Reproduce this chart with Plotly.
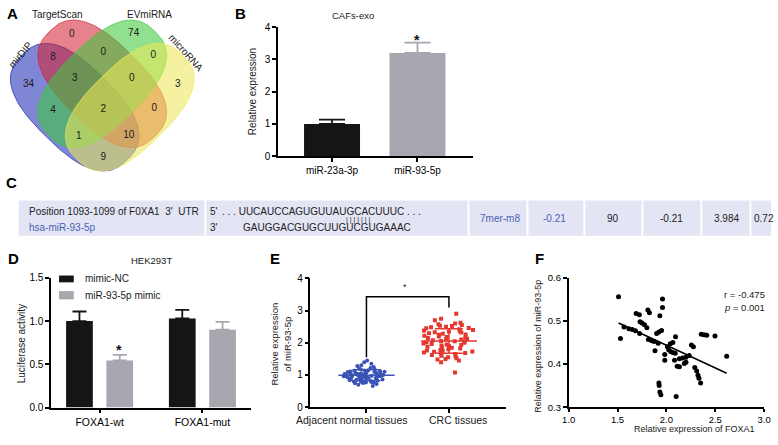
import numpy as np
import plotly.graph_objects as go

W, H = 778, 445
FONT = "Liberation Sans, Arial, sans-serif"

# ---------------- DATA ----------------
# A: Venn diagram
venn_sets = ["mirDIP", "TargetScan", "EVmiRNA", "microRNA"]
venn_regions = ["mirDIP", "TargetScan", "EVmiRNA", "microRNA",
                "mirDIP&TargetScan", "TargetScan&EVmiRNA", "EVmiRNA&microRNA",
                "mirDIP&TargetScan&EVmiRNA", "TargetScan&EVmiRNA&microRNA",
                "mirDIP&EVmiRNA", "all", "TargetScan&microRNA",
                "mirDIP&EVmiRNA&microRNA", "mirDIP&TargetScan&microRNA",
                "mirDIP&microRNA"]
venn_counts = [34, 0, 74, 3, 8, 0, 0, 3, 0, 4, 2, 0, 1, 10, 9]

# B: CAFs-exo bar chart
b_categories = ["miR-23a-3p", "miR-93-5p"]
b_values = [1.0, 3.2]
b_errors = [0.13, 0.32]

# C: target-site table
c_row_labels = ["Position 1093-1099 of F0XA1  3'  UTR", "hsa-miR-93-5p"]
c_utr_seq = "UUCAUCCAGUGUUAUGCACUUUC"
c_mir_seq = "GAUGGACGUGCUUGUCGUGAAAC"
c_cells = ["7mer-m8", "-0.21", "90", "-0.21", "3.984", "0.72"]

# D: luciferase assay
d_groups = ["FOXA1-wt", "FOXA1-mut"]
d_series = ["mimic-NC", "miR-93-5p mimic"]
d_nc = [1.0, 1.03]
d_nc_err = [0.11, 0.10]
d_mimic = [0.545, 0.90]
d_mimic_err = [0.065, 0.09]

# E: tissue expression
e_groups = ["Adjacent normal tissues", "CRC tissues"]
e_normal = [1.45, 1.40, 1.35, 1.30, 1.28, 1.25, 1.22, 1.20, 1.18, 1.17, 1.15, 1.14,
            1.13, 1.12, 1.11, 1.10, 1.10, 1.09, 1.08, 1.07, 1.06, 1.05, 1.05, 1.04,
            1.03, 1.02, 1.02, 1.01, 1.00, 1.00, 1.00, 0.99, 0.99, 0.98, 0.98, 0.97,
            0.97, 0.96, 0.95, 0.95, 0.94, 0.93, 0.93, 0.92, 0.91, 0.90, 0.90, 0.89,
            0.88, 0.87, 0.86, 0.85, 0.84, 0.83, 0.82, 0.81, 0.80, 0.79, 0.78, 0.77,
            0.76, 0.75, 0.74, 0.72, 0.70, 0.66, 1.03, 0.96, 1.08, 0.92]
e_crc = [2.90, 2.75, 2.70, 2.62, 2.60, 2.58, 2.55, 2.52, 2.50, 2.48, 2.46, 2.45,
         2.42, 2.40, 2.38, 2.36, 2.35, 2.32, 2.30, 2.28, 2.26, 2.25, 2.22, 2.20,
         2.18, 2.16, 2.15, 2.12, 2.10, 2.08, 2.06, 2.05, 2.03, 2.02, 2.00, 1.98,
         1.96, 1.95, 1.92, 1.90, 1.88, 1.86, 1.85, 1.82, 1.80, 1.78, 1.76, 1.75,
         1.72, 1.70, 1.68, 1.66, 1.65, 1.62, 1.60, 1.58, 1.55, 1.52, 1.50, 1.48,
         1.45, 1.40, 1.08, 2.13, 1.93, 2.33, 1.73, 2.53]

# F: correlation
f_foxa1 = [1.51, 1.96, 1.96, 1.933, 1.69, 1.723, 1.81, 1.826, 1.73, 1.75, 1.776, 1.80,
           1.566, 1.616, 1.65, 1.683, 1.726, 1.53, 1.90, 1.923, 1.95, 1.816, 1.85,
           1.876, 1.916, 2.093, 2.066, 2.04, 1.883, 2.01, 2.023, 2.043, 2.066, 2.09,
           1.983, 2.256, 2.276, 2.357, 2.385, 2.413, 2.497, 1.983, 2.083, 2.133, 2.166,
           2.20, 2.233, 2.11, 2.133, 2.183, 2.20, 2.29, 2.31, 2.323, 2.333, 2.35,
           1.923, 1.926, 1.933, 1.943, 2.10, 2.617]
f_mir = [0.556, 0.551, 0.531, 0.512, 0.517, 0.514, 0.525, 0.519, 0.498, 0.495, 0.491,
         0.484, 0.486, 0.482, 0.480, 0.477, 0.471, 0.459, 0.471, 0.474, 0.478, 0.457,
         0.454, 0.452, 0.448, 0.463, 0.450, 0.447, 0.431, 0.440, 0.433, 0.429, 0.427,
         0.425, 0.422, 0.444, 0.440, 0.469, 0.468, 0.467, 0.465, 0.409, 0.409, 0.412,
         0.414, 0.416, 0.420, 0.395, 0.394, 0.401, 0.404, 0.392, 0.384, 0.374, 0.367,
         0.356, 0.356, 0.350, 0.335, 0.329, 0.325, 0.418]
f_stats = ["r = -0.475", "<i>p</i> = 0.001"]

# ---------------- HELPERS ----------------
def dx(x0, x1):
    return [x0 / W, x1 / W]

def dy(y0, y1):
    return [1 - y1 / H, 1 - y0 / H]

def px(x):
    return x / W

def py(y):
    return 1 - y / H

BLACK = "#151515"
GRAY = "#a7a7af"

def axis_style(**kw):
    d = dict(showline=True, linecolor="black", linewidth=1.5, ticks="outside",
             ticklen=4, tickwidth=1.5, tickcolor="black", showgrid=False,
             zeroline=False, tickfont=dict(family=FONT, size=10, color="black"),
             fixedrange=True)
    d.update(kw)
    return d

fig = go.Figure()
annotations = []
shapes = []

def ann(text, x, y, size=10, color="#1a1a1a", angle=0, xanchor="center",
        yanchor="middle", bold=False):
    if bold:
        text = "<b>" + text + "</b>"
    annotations.append(dict(text=text, x=px(x), y=py(y), xref="paper", yref="paper",
                            showarrow=False, textangle=angle,
                            xanchor=xanchor, yanchor=yanchor,
                            font=dict(family=FONT, size=size, color=color)))

# ---------------- A: VENN ----------------
venn_geom = {  # centre (px), rotation (deg, screen)
    "mirDIP": ((69, 104), 45),
    "TargetScan": ((97, 80), 45),
    "EVmiRNA": ((97, 80), -45),
    "microRNA": ((125, 104), -45),
}
venn_colors = {
    "mirDIP": (30, 42, 178),
    "TargetScan": (210, 36, 52),
    "EVmiRNA": (60, 200, 60),
    "microRNA": (236, 232, 88),
}
ea, eb, en = 76, 42, 2.6
t = np.linspace(0, 2 * np.pi, 160)
cu = np.sign(np.cos(t)) * np.abs(np.cos(t)) ** (2 / en)
sv = np.sign(np.sin(t)) * np.abs(np.sin(t)) ** (2 / en)
for s in venn_sets:
    (cx, cy), ang = venn_geom[s]
    th = np.deg2rad(ang)
    u, v = ea * cu, eb * sv
    ex = cx + u * np.cos(th) - v * np.sin(th)
    ey = cy + u * np.sin(th) + v * np.cos(th)
    r, g, b = venn_colors[s]
    fig.add_trace(go.Scatter(x=ex, y=ey, mode="lines", fill="toself",
                             fillcolor=f"rgba({r},{g},{b},0.57)",
                             line=dict(color=f"rgba({r},{g},{b},0.7)", width=1),
                             xaxis="x5", yaxis="y5", hoverinfo="skip", showlegend=False))

venn_label_pos = [(22, 81), (66, 29), (129, 28), (174, 81), (47, 53), (98, 48),
                  (149, 51), (69, 74), (127, 75), (47, 107), (98, 106), (150, 105),
                  (73, 134), (124, 133), (98, 156)]
fig.add_trace(go.Scatter(x=[p[0] for p in venn_label_pos], y=[p[1] for p in venn_label_pos],
                         mode="text", text=[str(c) for c in venn_counts],
                         textfont=dict(family=FONT, size=10, color="#1a1a1a"),
                         xaxis="x5", yaxis="y5", hoverinfo="skip", showlegend=False))
set_label_pos = {"mirDIP": (14, 50, -50), "TargetScan": (51, 9, 0),
                 "EVmiRNA": (145, 9, 0), "microRNA": (182, 48, 48)}
for s in venn_sets:
    x, y, a = set_label_pos[s]
    ann(s, x, y, size=10, angle=a)

# ---------------- B ----------------
b_x = list(range(len(b_categories)))
for i, col in enumerate([BLACK, GRAY]):
    fig.add_trace(go.Bar(x=[b_x[i]], y=[b_values[i]], width=0.655,
                         marker=dict(color=col, line=dict(width=0)),
                         error_y=dict(type="data", array=[b_errors[i]], arrayminus=[0],
                                      symmetric=False, color=col, thickness=1.8, width=13),
                         xaxis="x", yaxis="y", showlegend=False, hoverinfo="skip"))
ann("*", 418, 35, size=14, bold=True, color="#111")
ann("CAFs-exo", 352, 10, size=9.5)
ann("Relative expression", 250, 88, size=10, angle=-90)

# ---------------- C: table ----------------
shapes.append(dict(type="rect", xref="paper", yref="paper", x0=px(12), x1=px(778),
                   y0=py(236), y1=py(200), fillcolor="#e3e5f5", line=dict(width=0), layer="below"))
for sx in [202, 470, 530, 588, 647, 707, 757]:
    shapes.append(dict(type="line", xref="paper", yref="paper", x0=px(sx), x1=px(sx),
                       y0=py(236), y1=py(200), line=dict(color="white", width=2)))
ann(c_row_labels[0], 20, 211.5, size=10, xanchor="left", color="#222")
ann(c_row_labels[1], 20, 227.5, size=10, xanchor="left", color="#4a5fb3")
ann("5'", 205, 211.5, size=10, xanchor="left", color="#222")
ann("3'", 205, 227.5, size=10, xanchor="left", color="#222")
ann(". . . " + c_utr_seq + " . . .", 217, 211.5, size=10, xanchor="left", color="#222")
ann(c_mir_seq, 238, 227.5, size=10, xanchor="left", color="#222")
ann("| | | | | | |", 358, 219.5, size=7, color="#222")
cell_cx = [502, 558, 617, 677, 733, 759]
cell_col = ["#4a5fb3", "#4a5fb3", "#222", "#222", "#222", "#222"]
for i, txt in enumerate(c_cells):
    if i == len(c_cells) - 1:
        ann(txt, cell_cx[i], 218, size=10, xanchor="left", color=cell_col[i])
    else:
        ann(txt, cell_cx[i], 218, size=10, color=cell_col[i])

# ---------------- D ----------------
d_x = list(range(len(d_groups)))
for vals, errs, col, off in [(d_nc, d_nc_err, BLACK, -0.326), (d_mimic, d_mimic_err, GRAY, 0.066)]:
    fig.add_trace(go.Bar(x=d_x, y=vals, width=0.26, offset=off,
                         marker=dict(color=col, line=dict(width=0)),
                         error_y=dict(type="data", array=errs, arrayminus=[0] * len(errs),
                                      symmetric=False, color=col, thickness=1.8, width=7),
                         xaxis="x2", yaxis="y2", showlegend=False, hoverinfo="skip"))
ann("*", 114, 354, size=14, bold=True, color="#111")
ann("HEK293T", 147, 262, size=9.5)
ann("Luciferase activity", 15, 347, size=10, angle=-90)
for col, (y0, y1), lab in [(BLACK, (277, 284), d_series[0]), (GRAY, (293, 301.5), d_series[1])]:
    shapes.append(dict(type="rect", xref="paper", yref="paper", x0=px(53), x1=px(68),
                       y0=py(y1), y1=py(y0), fillcolor=col, line=dict(width=0)))
    ann(lab, 77, (y0 + y1) / 2, size=10, xanchor="left")

# ---------------- E ----------------
e_cols = ["#3a52b6", "#e5372e"]
e_sym = ["circle", "square"]
for i, vals in enumerate([e_normal, e_crc]):
    fig.add_trace(go.Box(x=[i] * len(vals), y=vals, boxpoints="all", jitter=1.0,
                         pointpos=0, width=0.66, fillcolor="rgba(0,0,0,0)",
                         line=dict(width=0, color="rgba(0,0,0,0)"),
                         marker=dict(color=e_cols[i], size=4, symbol=e_sym[i]),
                         xaxis="x3", yaxis="y3", showlegend=False, hoverinfo="skip"))
    m = float(np.mean(vals))
    s = float(np.std(vals, ddof=1))
    fig.add_trace(go.Scatter(
        x=[i - 0.34, i + 0.34, None, i - 0.17, i + 0.17, None, i - 0.17, i + 0.17, None, i, i],
        y=[m, m, None, m + s, m + s, None, m - s, m - s, None, m - s, m + s],
        mode="lines", line=dict(color=e_cols[i], width=1.5),
        xaxis="x3", yaxis="y3", showlegend=False, hoverinfo="skip"))
bracket_y = [1.55, 3.43, 3.43, 3.1]
fig.add_trace(go.Scatter(x=[0, 0, 1, 1], y=bracket_y, mode="lines",
                         line=dict(color="black", width=1.5),
                         xaxis="x3", yaxis="y3", showlegend=False, hoverinfo="skip"))
ann("*", 405, 289, size=9, color="#111")
ann("Relative expression<br>of miR-93-5p", 279, 347, size=9.5, angle=-90)
ann(e_groups[0], 351, 425, size=10.5)
ann(e_groups[1], 459, 425, size=10.5)

# ---------------- F ----------------
fig.add_trace(go.Scatter(x=f_foxa1, y=f_mir, mode="markers",
                         marker=dict(color="black", size=5),
                         xaxis="x4", yaxis="y4", showlegend=False, hoverinfo="skip"))
k, c0 = np.polyfit(f_foxa1, f_mir, 1)
fx = np.array([min(f_foxa1), max(f_foxa1)])
fig.add_trace(go.Scatter(x=fx, y=k * fx + c0, mode="lines",
                         line=dict(color="black", width=1.5),
                         xaxis="x4", yaxis="y4", showlegend=False, hoverinfo="skip"))
ann(f_stats[0], 728, 296, size=9.5, xanchor="left")
ann(f_stats[1], 728, 310, size=9.5, xanchor="left")
ann("Relative expression of miR-93-5p", 540, 350, size=9, angle=-90)
ann("Relative expression of FOXA1", 700, 435, size=9)

# ---------------- panel letters ----------------
for L, x, y in [("A", 6, 8), ("B", 238, 8), ("C", 5, 181), ("D", 7, 260), ("E", 273, 259), ("F", 542, 260)]:
    ann(L, x, y, size=15, bold=True, color="black")

fig.update_layout(
    width=W, height=H, margin=dict(l=0, r=0, t=0, b=0),
    paper_bgcolor="white", plot_bgcolor="rgba(0,0,0,0)",
    barmode="overlay", boxmode="overlay",
    font=dict(family=FONT, color="black"),
    xaxis=axis_style(domain=dx(276, 475), range=[-0.632, 1.655], tickvals=b_x,
                     ticktext=b_categories, anchor="y"),
    yaxis=axis_style(domain=dy(21.7, 154.3), range=[0, 4], tickvals=[0, 1, 2, 3, 4], anchor="x"),
    xaxis2=axis_style(domain=dx(45, 248), range=[-0.471, 1.468], tickvals=d_x,
                      ticktext=d_groups, anchor="y2", tickfont=dict(family=FONT, size=10.5, color="black")),
    yaxis2=axis_style(domain=dy(279.3, 412.7), range=[0, 1.5], tickvals=[0, 0.5, 1.0, 1.5],
                      tickformat=".1f", anchor="x2"),
    xaxis3=axis_style(domain=dx(309, 508), range=[-0.679, 1.69], tickvals=[0, 1],
                      showticklabels=False, anchor="y3"),
    yaxis3=axis_style(domain=dy(280, 412.3), range=[0, 4], tickvals=[0, 1, 2, 3, 4], anchor="x3"),
    xaxis4=axis_style(domain=dx(572, 771), range=[1.0, 3.0], tickvals=[1.0, 1.5, 2.0, 2.5, 3.0],
                      tickformat=".1f", anchor="y4", ticklen=3,
                      tickfont=dict(family=FONT, size=9.5, color="black")),
    yaxis4=axis_style(domain=dy(279.3, 412.3), range=[0.3, 0.6], tickvals=[0.3, 0.4, 0.5, 0.6],
                      tickformat=".1f", anchor="x4", tickfont=dict(family=FONT, size=9.5, color="black")),
    xaxis5=dict(domain=dx(0, 200), range=[0, 200], visible=False, fixedrange=True, anchor="y5"),
    yaxis5=dict(domain=dy(0, 175), range=[175, 0], visible=False, fixedrange=True, anchor="x5"),
    annotations=annotations, shapes=shapes,
)

fig.write_html("out.html", config={"displayModeBar": False},
               post_script="document.body.style.margin='0px';document.body.style.overflow='hidden';")
